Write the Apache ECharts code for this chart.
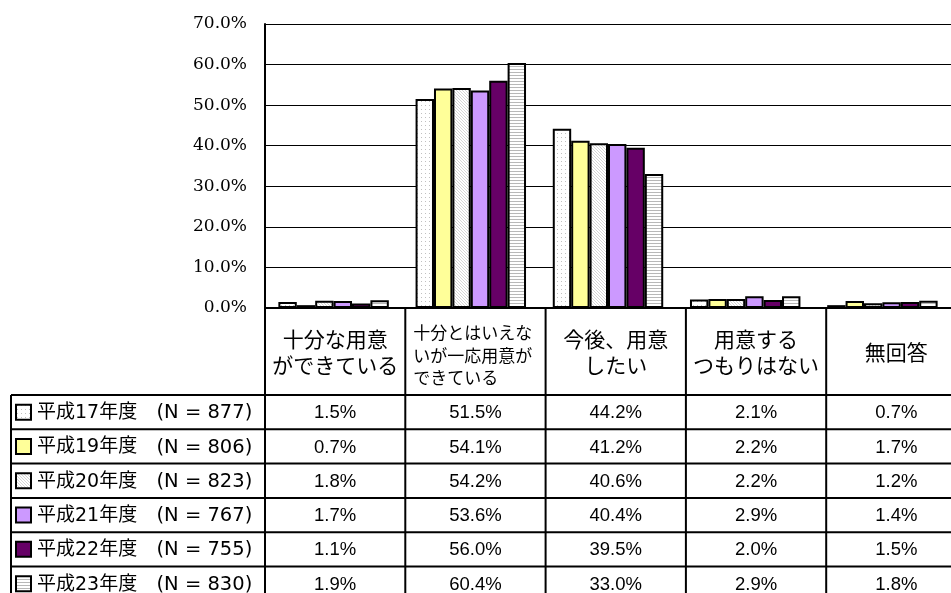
<!DOCTYPE html>
<html>
<head>
<meta charset="utf-8">
<script src="https://cdn.jsdelivr.net/npm/echarts@6/dist/echarts.min.js"></script>
<style>
  html, body { margin: 0; padding: 0; background: #fff; }
  #chart { width: 951px; height: 593px; }
</style>
</head>
<body>
<div id="chart"></div>
<script>
// Survey answers (category headers of the data table)
const categories = [
  ['十分な用意', 'ができている'],
  ['十分とはいえな', 'いが一応用意が', 'できている'],
  ['今後、用意', 'したい'],
  ['用意する', 'つもりはない'],
  ['無回答']
];
const categoryKeys = ['十分な用意ができている', '十分とはいえないが一応用意ができている', '今後、用意したい', '用意するつもりはない', '無回答'];

// Survey years and respondents
const seriesNames = ['平成17年度', '平成19年度', '平成20年度', '平成21年度', '平成22年度', '平成23年度'];
const sampleSizes = [877, 806, 823, 767, 755, 830];

// Shares (%) per answer, one array per survey year
const h17 = [1.5, 51.5, 44.2, 2.1, 0.7];
const h19 = [0.7, 54.1, 41.2, 2.2, 1.7];
const h20 = [1.8, 54.2, 40.6, 2.2, 1.2];
const h21 = [1.7, 53.6, 40.4, 2.9, 1.4];
const h22 = [1.1, 56.0, 39.5, 2.0, 1.5];
const h23 = [1.9, 60.4, 33.0, 2.9, 1.8];
const seriesValues = [h17, h19, h20, h21, h22, h23];

// Value axis ticks
const yMin = 0, yMax = 70, yStep = 10;

// --- fills -------------------------------------------------------------
function makePattern(w, h, painter) {
  const c = document.createElement('canvas');
  c.width = w; c.height = h;
  const g = c.getContext('2d');
  g.fillStyle = '#ffffff';
  g.fillRect(0, 0, w, h);
  painter(g);
  return { image: c, repeat: 'repeat' };
}
const dotted = makePattern(4, 4, g => { g.fillStyle = '#c0c0c0'; g.fillRect(1, 1, 1, 1); });
const diagonal = makePattern(3, 3, g => {
  g.fillStyle = '#d6d6d6';
  for (let i = 0; i < 3; i++) g.fillRect(i, i, 1, 1);
});
const striped = makePattern(1, 3, g => { g.fillStyle = '#b8b8b8'; g.fillRect(0, 0, 1, 1); });
const fills = [dotted, '#FFFF99', diagonal, '#CC99FF', '#660066', striped];

// --- layout ------------------------------------------------------------
const plotLeft = 265, plotTop = 24, plotHeight = 284;
const colW = 140.3;
const plotWidth = colW * categories.length;
const headerTop = plotTop + plotHeight;   // 308
const headerBottom = 395;
const rowH = 34.3;
const tableLeft = 11;
const pageH = 593;

const chart = echarts.init(document.getElementById('chart'), null, { renderer: 'canvas' });

const graphics = [];
const line = (x1, y1, x2, y2, w) => graphics.push({
  type: 'line', z: 50, silent: true,
  shape: { x1, y1, x2, y2 },
  style: { stroke: '#000', lineWidth: w }
});

// vertical rules of the table
for (let i = 0; i <= categories.length; i++) {
  const x = plotLeft + i * colW;
  line(x, headerTop, x, pageH + 5, 2);
}
line(tableLeft, headerBottom, tableLeft, pageH + 5, 2);
// horizontal rules of the table
for (let k = 0; k <= seriesNames.length; k++) {
  const y = headerBottom + k * rowH;
  line(tableLeft, y, plotLeft + plotWidth, y, 2);
}

// column headers
const cjk = "'Noto Sans CJK JP', sans-serif";
categories.forEach((lines, i) => {
  const cx = plotLeft + (i + 0.5) * colW;
  if (lines.length === 3) {
    graphics.push({
      type: 'text', z: 60, silent: true,
      x: plotLeft + i * colW + 8, y: (headerTop + headerBottom) / 2 + 4,
      style: {
        text: lines.join('\n'), fill: '#000', fontFamily: cjk, fontSize: 17,
        lineHeight: 22.5, align: 'left', verticalAlign: 'middle'
      }
    });
  } else {
    graphics.push({
      type: 'text', z: 60, silent: true,
      x: cx, y: (headerTop + headerBottom) / 2 + 1,
      style: {
        text: lines.join('\n'), fill: '#000', fontFamily: cjk, fontSize: 21,
        lineHeight: 26, align: 'center', verticalAlign: 'middle'
      }
    });
  }
});

// rows: legend key, year label, values
const rowFont = "'DejaVu Sans', 'Noto Sans CJK JP', sans-serif";
seriesNames.forEach((name, k) => {
  const cy = headerBottom + (k + 0.5) * rowH;
  graphics.push({
    type: 'rect', z: 60, silent: true,
    shape: { x: 16, y: cy - 7.5, width: 15, height: 15 },
    style: { fill: fills[k], stroke: '#000', lineWidth: 2 }
  });
  graphics.push({
    type: 'text', z: 60, silent: true,
    x: 37, y: cy + 1,
    style: {
      text: '{a|' + name + '} {b|(N = ' + sampleSizes[k] + ')}',
      fill: '#000', align: 'left', verticalAlign: 'middle',
      rich: {
        a: { fontFamily: rowFont, fontSize: 19, fill: '#000' },
        b: { fontFamily: rowFont, fontSize: 19.5, fill: '#000', padding: [0, 0, 0, 16] }
      }
    }
  });
  seriesValues[k].forEach((v, i) => {
    graphics.push({
      type: 'text', z: 60, silent: true,
      x: plotLeft + (i + 0.5) * colW, y: cy + 1,
      style: {
        text: v.toFixed(1) + '%', fill: '#000',
        fontFamily: "'Liberation Sans', 'Noto Sans CJK JP', sans-serif", fontSize: 18.5,
        align: 'center', verticalAlign: 'middle'
      }
    });
  });
});

chart.setOption({
  animation: false,
  backgroundColor: '#ffffff',
  grid: { left: plotLeft, top: plotTop, width: plotWidth, height: plotHeight, containLabel: false },
  xAxis: {
    type: 'category',
    data: categoryKeys,
    axisLine: { show: true, lineStyle: { color: '#000', width: 2 } },
    axisTick: { show: false },
    axisLabel: { show: false },
    splitLine: { show: false }
  },
  yAxis: {
    type: 'value',
    min: yMin, max: yMax, interval: yStep,
    axisLine: { show: true, lineStyle: { color: '#000', width: 2 } },
    axisTick: { show: false },
    axisLabel: {
      formatter: v => v.toFixed(1) + '%',
      color: '#000', fontFamily: "'DejaVu Serif', serif", fontSize: 17, margin: 18
    },
    splitLine: { show: true, lineStyle: { color: '#000', width: 1 } }
  },
  series: seriesNames.map((name, k) => ({
    name: name + ' (N = ' + sampleSizes[k] + ')',
    type: 'bar',
    data: seriesValues[k],
    barGap: '0%',
    barCategoryGap: '19.5%',
    itemStyle: { color: fills[k], borderColor: '#000', borderWidth: 2 }
  })),
  graphic: { elements: graphics }
});
</script>
</body>
</html>
